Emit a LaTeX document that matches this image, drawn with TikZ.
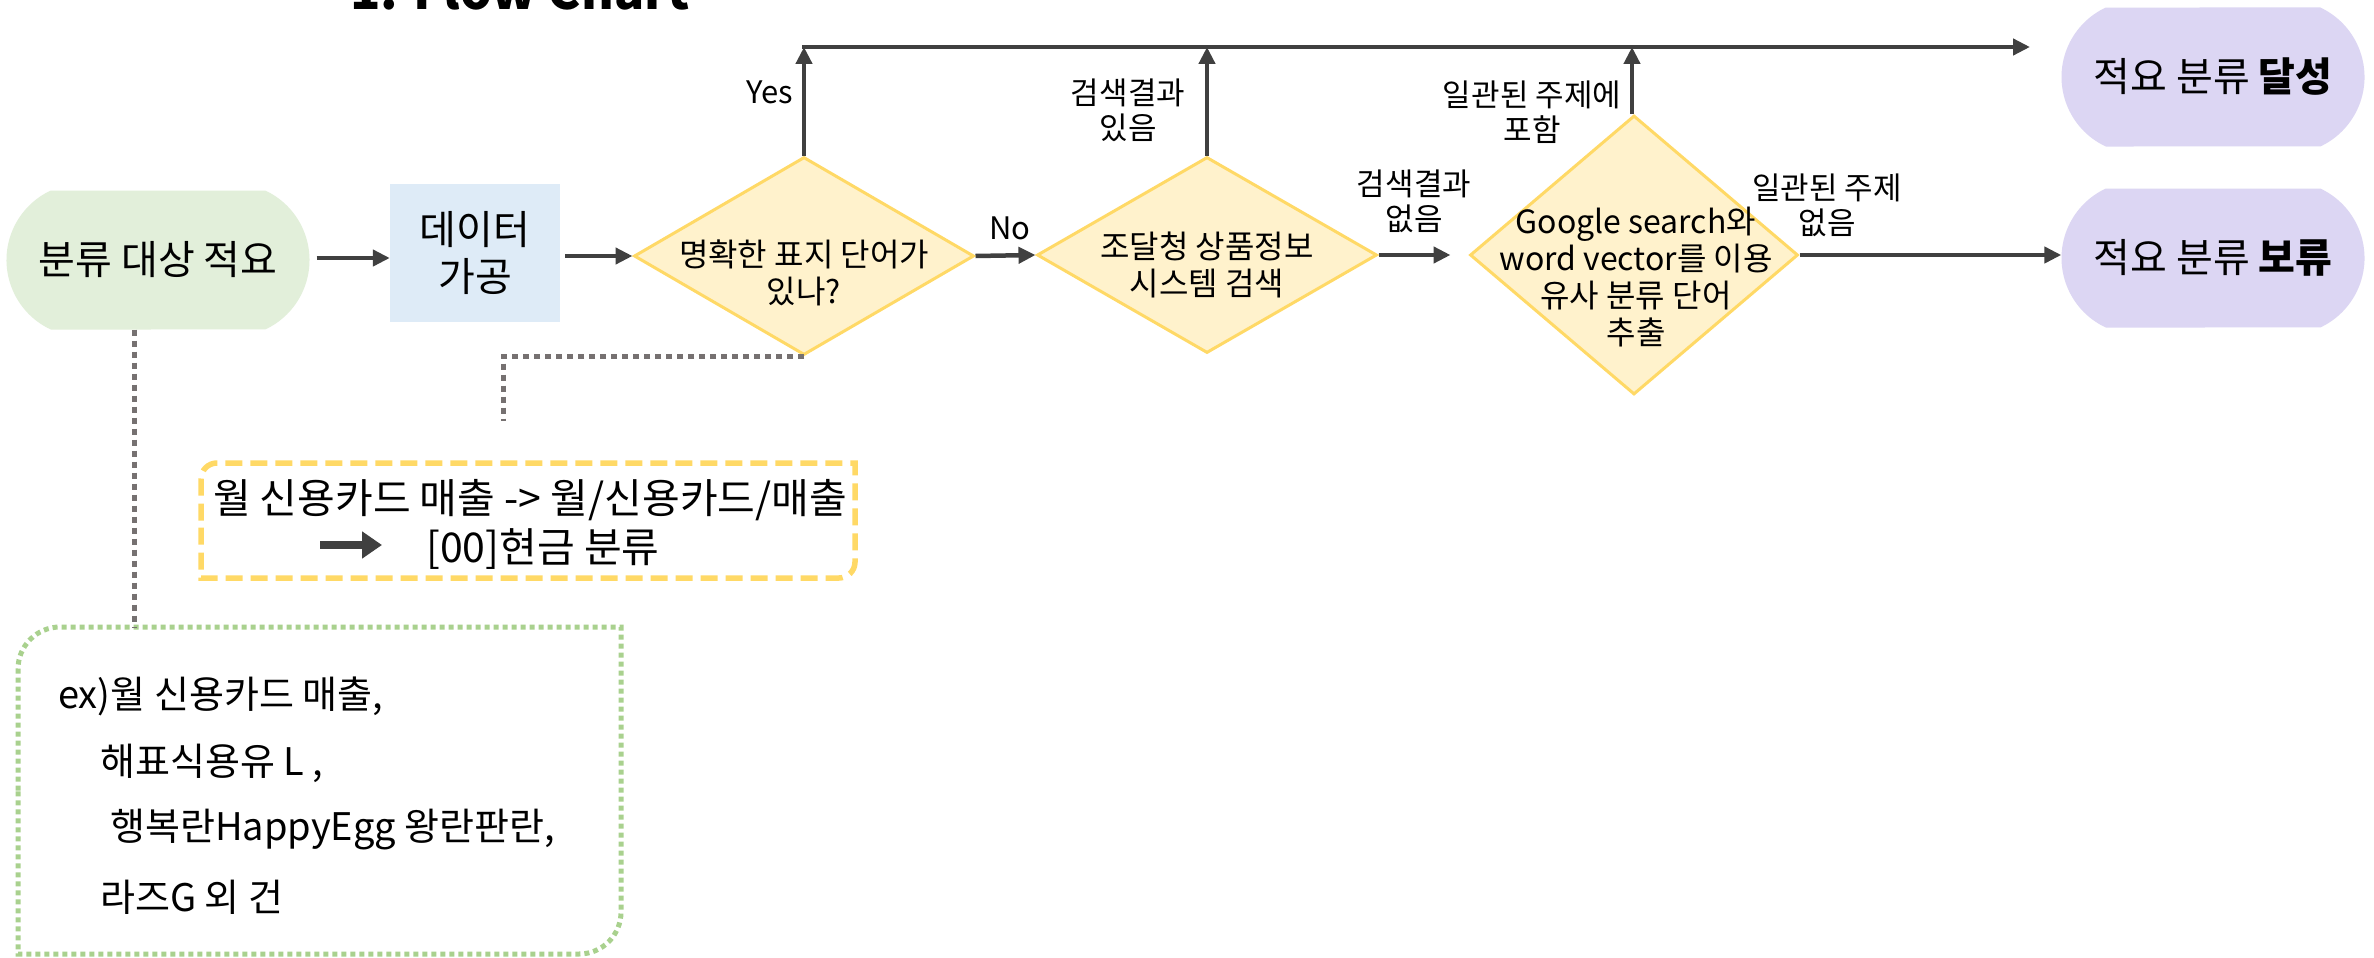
\documentclass[tikz,border=0pt]{standalone}
\usepackage{fontspec}
\setmainfont{Noto Sans CJK KR}
\usetikzlibrary{shapes.geometric,shapes.misc,arrows.meta}
\definecolor{gfill}{HTML}{E2EFDA}
\definecolor{bfill}{HTML}{DEEBF7}
\definecolor{dfill}{HTML}{FFF2CC}
\definecolor{dline}{HTML}{FFD966}
\definecolor{pfill}{HTML}{DCD6F3}
\definecolor{arrc}{HTML}{404040}
\definecolor{dotc}{HTML}{767171}
\definecolor{gdot}{HTML}{A9D18E}
\newcommand{\fsmain}{\fontsize{40}{47}\selectfont}
\newcommand{\fsdia}{\fontsize{32}{37}\selectfont}
\newcommand{\fslab}{\fontsize{31}{35}\selectfont}
\newcommand{\fsyn}{\fontsize{41}{46}\selectfont}
\newcommand{\fsgn}{\fontsize{38}{44}\selectfont}
\newcommand{\fsttl}{\fontsize{50}{56}\selectfont}
\begin{document}
\begin{tikzpicture}[x=1pt,y=-1pt,
  arr/.style={draw=arrc, line width=4.5pt, -{Triangle[length=17pt,width=16pt]}},
  graydot/.style={draw=dotc, line width=5pt, dash pattern=on 6pt off 5pt},
  term/.style={rounded rectangle, rounded rectangle arc length=130, minimum width=303pt, minimum height=139pt, inner sep=0pt, font=\fsmain},
  dia/.style={diamond, fill=dfill, draw=dline, line width=3pt, inner sep=0pt},
  txt/.style={inner sep=0pt, align=center},
  lab/.style={inner sep=0pt, align=center, font=\fslab},
  frame/.style={inner sep=0pt, outer sep=0pt},
]
\useasboundingbox (0,0) rectangle (2374,958);
\fill[white] (0,0) rectangle (2374,958);
\clip (0,0) rectangle (2374,958);

% title
\node[inner sep=0pt, anchor=base, font=\fsttl\bfseries] (title) at (520,10) {1. Flow Chart};

% main nodes
\node[term, fill=gfill] (green) at (158,260) {분류 대상 적요};
\node[rectangle, fill=bfill, minimum width=170pt, minimum height=138pt, inner sep=0pt, align=center, font=\fsmain] (blue) at (475,253) {데이터\\가공};
\node[dia, minimum width=340pt, minimum height=198pt] (d1) at (804,256) {};
\node[txt, font=\fsdia] (d1t) at (804,273) {명확한 표지 단어가\\있나?};
\node[dia, minimum width=340pt, minimum height=196pt] (d2) at (1207,255) {};
\node[txt, font=\fsdia] (d2t) at (1207,265) {조달청 상품정보\\시스템 검색};
\node[dia, minimum width=328pt, minimum height=279pt] (d3) at (1634,255) {};
\node[txt, font=\fsdia] (d3t) at (1636,277) {Google search와\\word vector를 이용\\유사 분류 단어\\추출};
\node[term, fill=pfill] (p1) at (2213,77) {적요 분류 \textbf{달성}};
\node[term, fill=pfill] (p2) at (2213,258) {적요 분류 \textbf{보류}};

% connectors
\coordinate (top) at (0,47);
\coordinate (topend) at (2030,47);
\draw[arr, shorten <=7pt] (green.east |- 0,258) -- (blue.west |- 0,258);
\draw[arr, shorten <=5pt] (blue.east |- d1.west) -- (d1.west);
\draw[arr] (d1.north) -- (d1.north |- top);
\draw[arr] ([xshift=-2pt]d1.north |- top) -- (topend);
\draw[arr] (d1.east) -- (d2.west);
\draw[arr] (d2.north) -- (d2.north |- top);
\draw[arr, shorten >=18pt] (d2.east) -- (d3.west);
\draw[arr] ([xshift=-2pt]d3.north) -- ([xshift=-2pt]d3.north |- top);
\draw[arr] (d3.east) -- (p2.west |- d3.east);

% labels
\node[lab] (lyes) at (770,92) {Yes};
\node[lab] (lno) at (1010,228) {No};
\node[lab] (l1) at (1128,110) {검색결과\\있음};
\node[lab] (l2) at (1414,201) {검색결과\\없음};
\node[lab] (l3) at (1532,112) {일관된 주제에\\포함};
\node[lab] (l4) at (1827,205) {일관된 주제\\없음};

% yellow note (round diagonal corners)
\node[frame, minimum width=654pt, minimum height=115pt] (ynote) at (528,520.5) {};
\draw[draw=dline, line width=5.5pt, dash pattern=on 17pt off 8pt]
  (ynote.west) [rounded corners=16pt] -- (ynote.north west) [sharp corners] -- (ynote.north east)
  [rounded corners=16pt] -- (ynote.south east) [sharp corners] -- (ynote.south west) -- cycle;
\node[inner sep=0pt, font=\fsyn] (yn1) at (530,500) {월 신용카드 매출 -> 월/신용카드/매출};
\node[inner sep=0pt, anchor=base west, font=\fsyn] (yn2) at (426,562) {[00]현금 분류};
\coordinate (ya1) at (320,545);
\coordinate (ya2) at (382,545);
\draw[arrc, line width=8pt, -{Triangle[length=20pt,width=26pt]}] (ya1) -- (ya2);

% green note (round diagonal corners)
\node[frame, minimum width=603pt, minimum height=327pt] (gnote) at (319.5,790.5) {};
\draw[draw=gdot, line width=5pt, dash pattern=on 5pt off 4pt]
  (gnote.west) [rounded corners=42pt] -- (gnote.north west) [sharp corners] -- (gnote.north east)
  [rounded corners=42pt] -- (gnote.south east) [sharp corners] -- (gnote.south west) -- cycle;
\node[inner sep=0pt, anchor=base west, font=\fsgn] (gn1) at (58,708) {ex)월 신용카드 매출,};
\node[inner sep=0pt, anchor=base west, font=\fsgn] (gn2) at (100,775) {해표식용유 L ,};
\node[inner sep=0pt, anchor=base west, font=\fsgn] (gn3) at (110,840) {행복란HappyEgg 왕란판란,};
\node[inner sep=0pt, anchor=base west, font=\fsgn] (gn4) at (100,911) {라즈G 외 건};

% dotted links
\coordinate (gx) at (134,0);
\draw[graydot] (green.south -| gx) -- (gnote.north -| gx);
\coordinate (yatt) at (503,421);
\draw[graydot] (d1.south) -| (yatt);
\end{tikzpicture}
\end{document}
